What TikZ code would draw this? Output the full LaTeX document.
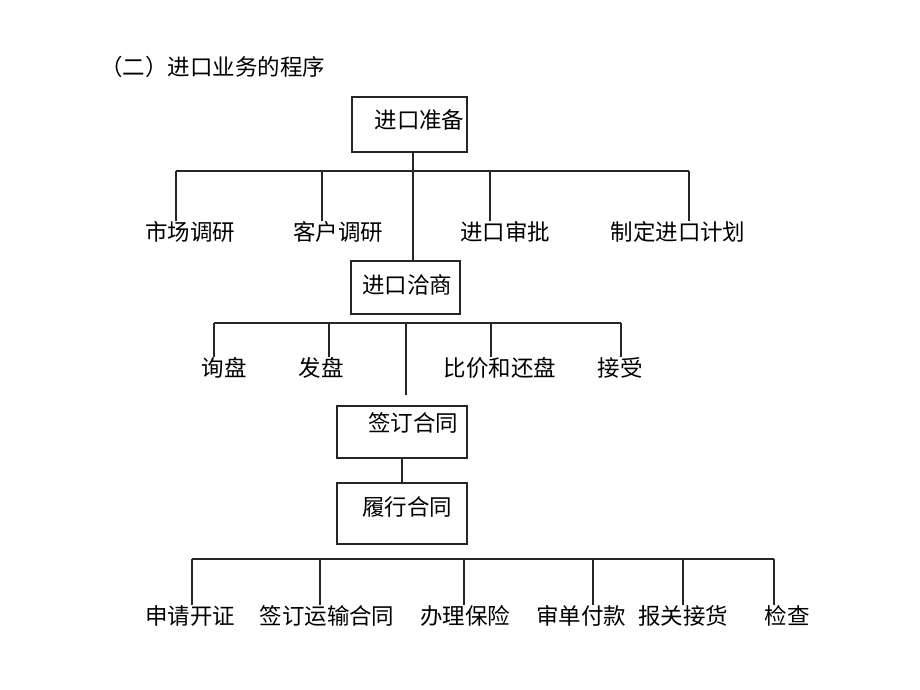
\documentclass[tikz,border=0pt]{standalone}
\usepackage{fontspec}
\setmainfont{Noto Sans CJK SC}
\usetikzlibrary{positioning}
\tikzset{
	treetext/.style = {
		align=center,
		inner sep=0pt,
		text centered,
		font=\fontsize{12.8pt}{15pt}\selectfont
	},
	node_box/.style = {
		rectangle,
		draw=black!85,
		line width=0.8pt,
		inner sep=0pt
	},
	node_txt/.style = {
		treetext,
		anchor=center
	},
	node_leaf/.style = {
		treetext,
		anchor=center
	},
	bus/.style = {
		draw=black!85,
		line width=0.8pt
	},
}
\begin{document}
\begin{tikzpicture}[x=0.02cm, y=-0.02cm]
\useasboundingbox (0,0) rectangle (920,690);
\node [treetext, anchor=west] (title) at (100,67) {（二）进口业务的程序};

\node [node_box, minimum width=2.3cm, minimum height=1.1cm] (prep) at (409.5,124.5) {};
\node [node_txt] (preptxt) at (419.5,120) {进口准备};
\node [node_box, minimum width=2.18cm, minimum height=1.06cm] (nego) at (405.5,287.5) {};
\node [node_txt] (negotxt) at (407,285) {进口洽商};
\node [node_box, minimum width=2.6cm, minimum height=1.04cm] (sign) at (402,432) {};
\node [node_txt] (signtxt) at (413,423) {签订合同};
\node [node_box, minimum width=2.6cm, minimum height=1.22cm] (perf) at (402,513.5) {};
\node [node_txt] (perftxt) at (407,507) {履行合同};

\node [node_leaf] (mkt) at (190,232) {市场调研};
\node [node_leaf] (cust) at (338,232) {客户调研};
\node [node_leaf] (appr) at (505,232) {进口审批};
\node [node_leaf] (plan) at (678,232) {制定进口计划};

\node [node_leaf] (inq) at (224,368) {询盘};
\node [node_leaf] (offer) at (321,368) {发盘};
\node [node_leaf] (comp) at (500,368) {比价和还盘};
\node [node_leaf] (acc) at (620,368) {接受};

\node [node_leaf] (lc) at (190,616) {申请开证};
\node [node_leaf] (ship) at (327,616) {签订运输合同};
\node [node_leaf] (ins) at (465,616) {办理保险};
\node [node_leaf] (pay) at (581,616) {审单付款};
\node [node_leaf] (cust2) at (683,616) {报关接货};
\node [node_leaf] (chk) at (787,616) {检查};

\coordinate (spine) at (413,171);
\coordinate (b1a) at (176,171);
\coordinate (b1b) at (322,171);
\coordinate (b1c) at (490,171);
\coordinate (b1d) at (689,171);
\draw [bus] (b1a) -- (b1d);
\draw [bus] (prep.south -| spine) -- (nego.north -| spine);
\draw [bus] (b1a) -- (b1a |- mkt.north);
\draw [bus] (b1b) -- (b1b |- cust.north);
\draw [bus] (b1c) -- (b1c |- appr.north);
\draw [bus] (b1d) -- (b1d |- plan.north);

\coordinate (b2a) at (214,323);
\coordinate (b2b) at (329,323);
\coordinate (b2m) at (406,323);
\coordinate (b2c) at (491,323);
\coordinate (b2d) at (621,323);
\coordinate (b2end) at (406,395);
\draw [bus] (b2a) -- (b2d);
\draw [bus] (b2m) -- (b2end);
\draw [bus] (b2a) -- (b2a |- inq.north);
\draw [bus] (b2b) -- (b2b |- offer.north);
\draw [bus] (b2c) -- (b2c |- comp.north);
\draw [bus] (b2d) -- (b2d |- acc.north);

\draw [bus] (sign.south) -- (perf.north);

\coordinate (b3a) at (192,559);
\coordinate (b3b) at (320,559);
\coordinate (b3c) at (464,559);
\coordinate (b3d) at (593,559);
\coordinate (b3e) at (683,559);
\coordinate (b3f) at (774,559);
\draw [bus] (b3a) -- (b3f);
\draw [bus] (b3a) -- (b3a |- lc.north);
\draw [bus] (b3b) -- (b3b |- ship.north);
\draw [bus] (b3c) -- (b3c |- ins.north);
\draw [bus] (b3d) -- (b3d |- pay.north);
\draw [bus] (b3e) -- (b3e |- cust2.north);
\draw [bus] (b3f) -- (b3f |- chk.north);
\end{tikzpicture}
\end{document}
